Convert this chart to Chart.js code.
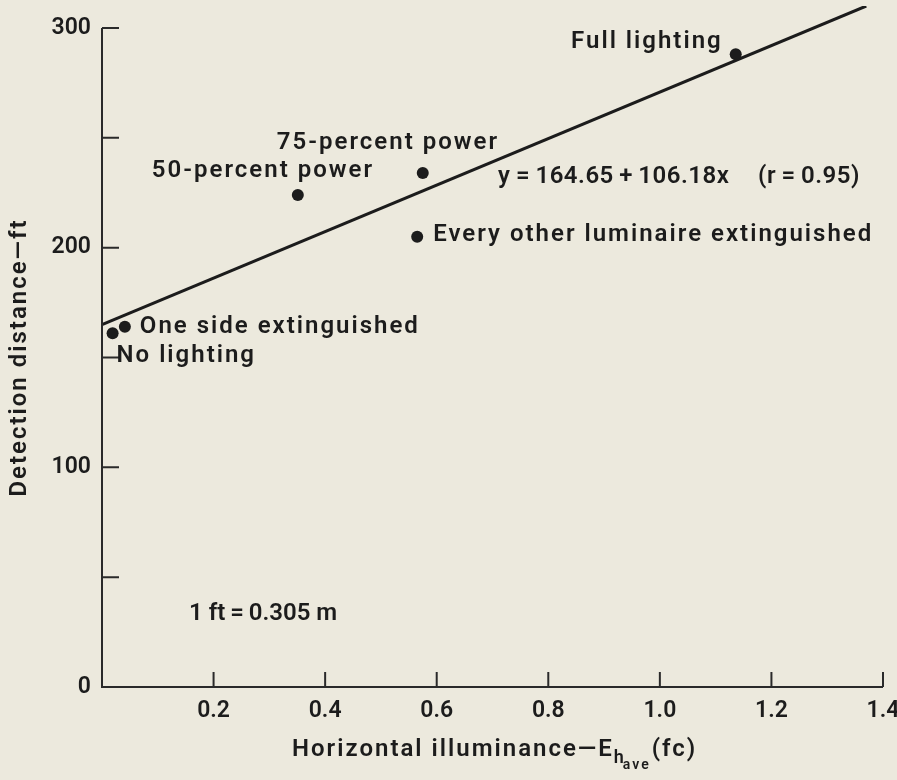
<!DOCTYPE html>
<html>
<head>
<meta charset="utf-8">
<script src="https://cdn.jsdelivr.net/npm/chart.js@4.4.1/dist/chart.umd.min.js"></script>
<style>
  html, body { margin: 0; padding: 0; background: #ece9dd; }
</style>
</head>
<body>
<canvas id="myChart" width="897" height="780"></canvas>
<script>
// values
var conditions = ['Full lighting', '75-percent power', '50-percent power',
  'Every other luminaire extinguished', 'One side extinguished', 'No lighting'];
var illuminance = [1.136, 0.575, 0.351, 0.565, 0.041, 0.019];
var detection = [288, 234, 224, 205, 164, 161];
// fitted line as drawn (y = 164.65 + 106.18x)
var fitX = [0, 1.37];
var fitY = [165, 310];
var xTicks = [0.2, 0.4, 0.6, 0.8, 1.0, 1.2, 1.4];
var yTicks = [0, 50, 100, 150, 200, 250, 300];
var yTickLabels = ['0', '', '100', '', '200', '', '300'];

var INK = '#1c1c1c';
var FAMILY = 'Roboto';
var WEIGHT = '600';
var FONT = WEIGHT + ' 24px ' + FAMILY;
var SPACING = '2px';
var TS = '\u2009';

// where each point's name sits, in px from the dot
var labelOffsets = [
  { dx: -13, dy: -12, align: 'right' },
  { dx: -146, dy: -30, align: 'left' },
  { dx: -146, dy: -24, align: 'left' },
  { dx: 16, dy: -2, align: 'left' },
  { dx: 15, dy: 0, align: 'left' },
  { dx: 4, dy: 23, align: 'left' }
];

var points = illuminance.map(function (x, i) { return { x: x, y: detection[i] }; });
var fitLine = fitX.map(function (x, i) { return { x: x, y: fitY[i] }; });

// axis lines, inward ticks and all the lettering
var figureText = {
  id: 'figureText',
  afterDraw: function (chart) {
    var ctx = chart.ctx;
    var xs = chart.scales.x, ys = chart.scales.y;
    var x0 = xs.getPixelForValue(0), y0 = ys.getPixelForValue(0);
    ctx.save();
    ctx.strokeStyle = '#2a2a2a';
    ctx.lineWidth = 2;
    ctx.beginPath();
    ctx.moveTo(x0, ys.getPixelForValue(300));
    ctx.lineTo(x0, y0);
    ctx.lineTo(xs.getPixelForValue(1.4), y0);
    yTicks.forEach(function (v) {
      if (v === 0) return;
      var py = ys.getPixelForValue(v);
      ctx.moveTo(x0, py); ctx.lineTo(x0 + 17, py);
    });
    xTicks.forEach(function (v) {
      var px = xs.getPixelForValue(v);
      ctx.moveTo(px, y0); ctx.lineTo(px, y0 - 15);
    });
    ctx.stroke();

    ctx.fillStyle = INK;
    ctx.font = FONT;
    ctx.letterSpacing = SPACING;
    ctx.textBaseline = 'middle';

    // point names
    points.forEach(function (p, i) {
      var o = labelOffsets[i];
      ctx.textAlign = o.align;
      ctx.fillText(conditions[i], xs.getPixelForValue(p.x) + o.dx, ys.getPixelForValue(p.y) + o.dy);
    });

    // regression note and conversion note
    ctx.textAlign = 'left';
    ctx.letterSpacing = '0.5px';
    ctx.fillText('y' + TS + '=' + TS + '164.65' + TS + '+' + TS + '106.18x', xs.getPixelForValue(0.71), ys.getPixelForValue(232));
    ctx.fillText('(r' + TS + '=' + TS + '0.95)', xs.getPixelForValue(1.176), ys.getPixelForValue(232));
    ctx.letterSpacing = '0px';
    ctx.fillText('1 ft' + TS + '=' + TS + '0.305 m', xs.getPixelForValue(0.156), ys.getPixelForValue(33.4));
    ctx.letterSpacing = SPACING;

    // y title
    ctx.save();
    ctx.translate(20, ys.getPixelForValue(150));
    ctx.rotate(-Math.PI / 2);
    ctx.textAlign = 'center';
    ctx.fillText('Detection distance\u2014ft', 0, 0);
    ctx.restore();

    // x title with subscripts
    var main = 'Horizontal illuminance\u2014E';
    var tail = '(fc)';
    var smallFont = WEIGHT + ' 18px ' + FAMILY, tinyFont = WEIGHT + ' 14px ' + FAMILY;
    ctx.font = FONT;
    var wMain = ctx.measureText(main).width;
    ctx.font = smallFont;
    var wH = ctx.measureText('h').width;
    ctx.font = tinyFont;
    var wAve = ctx.measureText('ave').width;
    var tx = 292, ty = 750;
    ctx.textAlign = 'left';
    ctx.font = FONT;
    ctx.fillText(main, tx, ty);
    tx += wMain;
    ctx.font = smallFont;
    ctx.fillText('h', tx, ty + 8);
    tx += wH - 3;
    ctx.font = tinyFont;
    ctx.fillText('ave', tx, ty + 15);
    tx += wAve + 1;
    ctx.font = FONT;
    ctx.fillText(tail, tx, ty);
    ctx.restore();
  }
};

var ctx = document.getElementById('myChart');
var myChart = new Chart(ctx, {
  type: 'scatter',
  data: {
    datasets: [{
      label: 'Conditions',
      data: points,
      pointRadius: 6,
      pointBackgroundColor: INK,
      pointBorderWidth: 0
    }, {
      type: 'line',
      label: 'Fit',
      data: fitLine,
      borderColor: INK,
      borderWidth: 3,
      pointRadius: 0,
      fill: false
    }]
  },
  options: {
    responsive: false,
    animation: false,
    layout: { padding: { left: 0, right: 14, top: 0, bottom: 0 } },
    plugins: { legend: { display: false }, tooltip: { enabled: false } },
    scales: {
      x: {
        type: 'linear',
        min: 0,
        max: 1.4,
        grid: { display: false, drawTicks: false },
        border: { display: false },
        afterBuildTicks: function (s) { s.ticks = xTicks.map(function (v) { return { value: v }; }); },
        ticks: {
          autoSkip: false,
          maxRotation: 0,
          padding: 10,
          color: INK,
          font: { family: FAMILY, size: 23, weight: WEIGHT },
          callback: function (v) { return Number(v).toFixed(1); }
        },
        afterFit: function (s) { s.height = 93; s.paddingLeft = 0; s.paddingRight = 0; }
      },
      y: {
        min: 0,
        max: 310,
        grid: { display: false, drawTicks: false },
        border: { display: false },
        afterBuildTicks: function (s) { s.ticks = yTicks.map(function (v) { return { value: v }; }); },
        ticks: {
          autoSkip: false,
          padding: 11,
          color: INK,
          font: { family: FAMILY, size: 23, weight: WEIGHT },
          callback: function (v) { return yTickLabels[yTicks.indexOf(v)]; }
        },
        afterFit: function (s) { s.width = 102; s.paddingTop = 0; s.paddingBottom = 0; }
      }
    }
  },
  plugins: [figureText]
});
</script>
</body>
</html>
